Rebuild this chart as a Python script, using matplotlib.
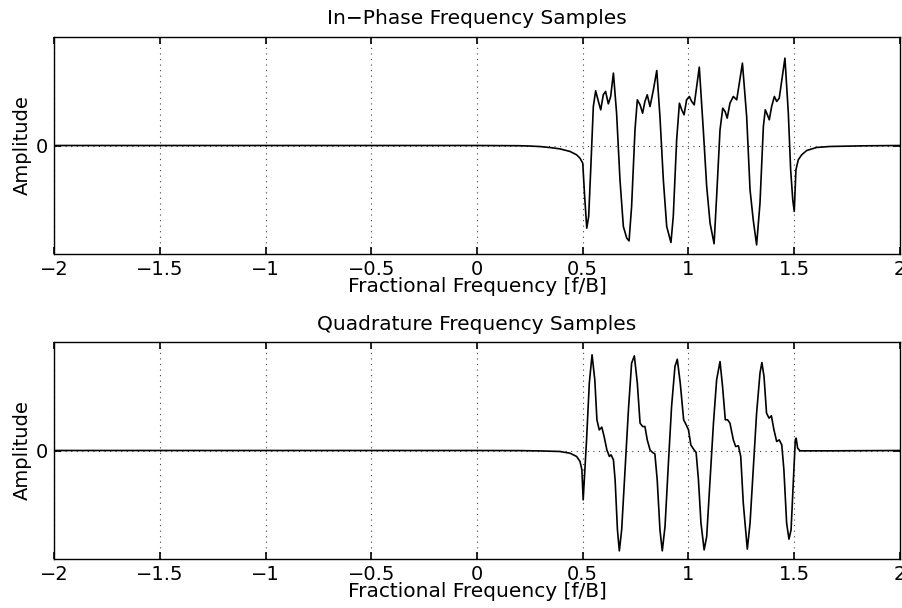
import matplotlib
matplotlib.use("Agg")
import matplotlib.pyplot as plt
import numpy as np

# ---- data ----
xticks = [-2, -1.5, -1, -0.5, 0, 0.5, 1, 1.5, 2]
xtick_labels = ["−2", "−1.5", "−1", "−0.5", "0", "0.5", "1", "1.5", "2"]

inphase_f = [-2.0, 0.0, 0.2, 0.25, 0.3, 0.35, 0.392, 0.44, 0.471, 0.487, 0.500, 0.509, 0.519, 0.528,
             0.539, 0.550, 0.561, 0.574, 0.585, 0.597, 0.608, 0.621, 0.632, 0.645, 0.660,
             0.676, 0.692, 0.708, 0.719, 0.731, 0.747, 0.758, 0.771, 0.783, 0.794, 0.805,
             0.818, 0.834, 0.850, 0.865, 0.881, 0.897, 0.917, 0.928, 0.944, 0.957, 0.968,
             0.979, 0.991, 1.004, 1.015, 1.027, 1.051, 1.070, 1.086, 1.102, 1.121, 1.133,
             1.149, 1.162, 1.173, 1.183, 1.196, 1.212, 1.228, 1.255, 1.275, 1.291, 1.306,
             1.322, 1.338, 1.354, 1.363, 1.373, 1.382, 1.393, 1.406, 1.417, 1.429, 1.456,
             1.472, 1.483, 1.493, 1.500, 1.508, 1.519, 1.535, 1.559, 1.606, 1.669, 1.826, 2.0]
inphase_a = [0.0, 0.0, -0.002, -0.005, -0.010, -0.020, -0.031, -0.055, -0.086, -0.117, -0.163, -0.47, -0.762, -0.654,
             -0.163, 0.359, 0.504, 0.406, 0.329, 0.467, 0.498, 0.384, 0.452, 0.667, 0.298,
             -0.316, -0.747, -0.854, -0.879, -0.562, 0.144, 0.421, 0.375, 0.298, 0.406, 0.467,
             0.359, 0.513, 0.691, 0.267, -0.316, -0.747, -0.894, -0.654, 0.052, 0.390, 0.329,
             0.283, 0.421, 0.452, 0.406, 0.375, 0.722, 0.144, -0.378, -0.716, -0.906, -0.470,
             0.144, 0.344, 0.313, 0.252, 0.390, 0.452, 0.421, 0.759, 0.267, -0.409, -0.685,
             -0.916, -0.531, 0.175, 0.329, 0.283, 0.237, 0.359, 0.452, 0.406, 0.436, 0.805,
             0.298, -0.224, -0.501, -0.608, -0.224, -0.132, -0.086, -0.046, -0.018, -0.009, -0.003, 0.0]

quad_f = [-2.0, 0.0, 0.2, 0.3, 0.392, 0.44, 0.471, 0.487, 0.496, 0.502, 0.510, 0.518, 0.531, 0.544,
          0.557, 0.567, 0.578, 0.590, 0.601, 0.614, 0.626, 0.634, 0.645, 0.653, 0.664, 0.673,
          0.684, 0.700, 0.716, 0.731, 0.744, 0.758, 0.771, 0.783, 0.794, 0.805, 0.818, 0.830,
          0.841, 0.852, 0.865, 0.876, 0.889, 0.905, 0.920, 0.936, 0.947, 0.961, 0.977, 0.989,
          1.000, 1.011, 1.024, 1.036, 1.047, 1.059, 1.074, 1.086, 1.102, 1.118, 1.133, 1.149,
          1.161, 1.174, 1.185, 1.196, 1.212, 1.223, 1.236, 1.247, 1.259, 1.278, 1.291, 1.306,
          1.322, 1.338, 1.347, 1.357, 1.369, 1.381, 1.392, 1.404, 1.417, 1.429, 1.441, 1.451,
          1.464, 1.475, 1.485, 1.496, 1.505, 1.509, 1.516, 1.527, 1.669, 2.0]
quad_a = [0.0, 0.0, -0.001, -0.004, -0.009, -0.025, -0.055, -0.101, -0.178, -0.455, -0.178, 0.098, 0.621, 0.882,
          0.651, 0.283, 0.190, 0.215, 0.129, 0.006, -0.055, -0.040, -0.086, -0.270, -0.731, -0.925,
          -0.731, -0.178, 0.375, 0.805, 0.872, 0.621, 0.252, 0.221, 0.221, 0.098, 0.006, -0.018,
          -0.031, -0.270, -0.731, -0.925, -0.700, -0.117, 0.406, 0.774, 0.841, 0.621, 0.283, 0.237,
          0.190, 0.052, 0.012, -0.018, -0.270, -0.670, -0.916, -0.793, -0.270, 0.252, 0.651, 0.820,
          0.590, 0.283, 0.283, 0.252, 0.098, 0.037, 0.043, -0.055, -0.485, -0.909, -0.670, -0.178,
          0.344, 0.713, 0.811, 0.682, 0.344, 0.298, 0.320, 0.190, 0.083, 0.098, 0.052, -0.178,
          -0.670, -0.817, -0.731, -0.270, 0.098, 0.114, 0.022, -0.003, -0.003, 0.0]

titles = ["In\u2212Phase Frequency Samples", "Quadrature Frequency Samples"]
xlabel = "Fractional Frequency [f/B]"
ylabel = "Amplitude"

# ---- figure ----
plt.rcParams['font.family'] = ['DejaVu Sans']
fig = plt.figure(figsize=(9.02, 6.08), dpi=100)
W, H = 902, 608
axes_px = [(54, 37, 900, 254), (54, 342, 900, 559)]
series = [(inphase_f, inphase_a), (quad_f, quad_a)]

for (l, t, r, b), (f, a), title in zip(axes_px, series, titles):
    ax = fig.add_axes([l / W, 1 - b / H, (r - l) / W, (b - t) / H])
    ax.plot(f, a, color='black', lw=1.2)
    ax.set_xlim(-2, 2)
    ax.set_ylim(-1, 1)
    ax.set_xticks(xticks)
    ax.set_xticklabels(xtick_labels, fontsize=14)
    ax.set_yticks([0])
    ax.set_yticklabels(["0"], fontsize=14)
    ax.tick_params(direction='in', length=5, width=1.2, top=True, right=True, pad=4)
    ax.grid(True, color='#444444', linestyle=(0, (1, 4)), linewidth=0.8)
    for s in ax.spines.values():
        s.set_linewidth(1.0)
    ax.set_title(title, fontsize=14.5, pad=9)
    ax.set_xlabel(xlabel, fontsize=14.5, labelpad=-1)
    ax.set_ylabel(ylabel, fontsize=14, labelpad=3)

fig.savefig("out.png", dpi=100)
